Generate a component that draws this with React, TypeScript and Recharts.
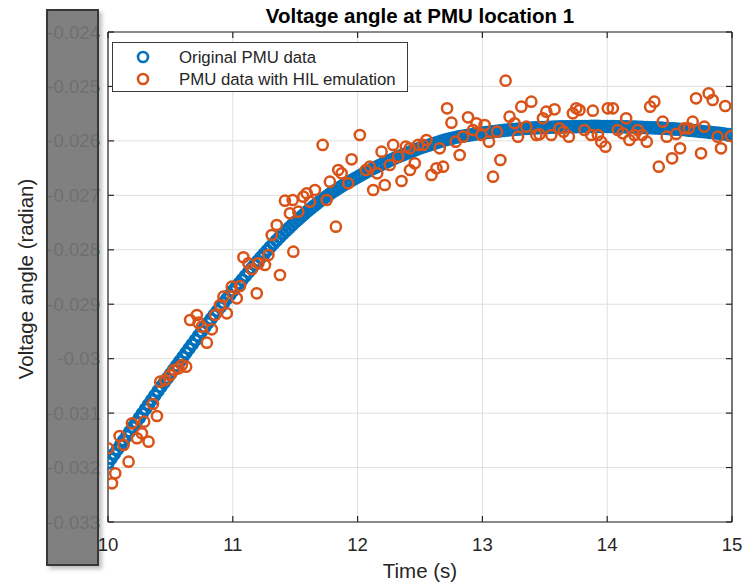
import { ScatterChart, Scatter, XAxis, YAxis, CartesianGrid, Legend } from "recharts";

// axis ticks
const X_TICKS = [10, 11, 12, 13, 14, 15];
const Y_TICKS = [-0.033, -0.032, -0.031, -0.03, -0.029, -0.028, -0.027, -0.026, -0.025, -0.024];

// original PMU data, sampled every 25 ms from t = 10 s
const ORIGINAL_T0 = 10;
const ORIGINAL_DT = 0.025;
const ORIGINAL_ANGLE = [
  -0.031916, -0.031834, -0.031751, -0.031668, -0.031586, -0.031503, -0.03142, -0.031338, -0.031255, -0.031173,
  -0.03109, -0.031007, -0.030925, -0.030842, -0.030759, -0.030677, -0.030594, -0.030516, -0.030438, -0.03036,
  -0.030282, -0.030204, -0.030126, -0.030047, -0.029969, -0.029891, -0.029813, -0.029735, -0.029657, -0.029579,
  -0.029501, -0.029423, -0.029345, -0.029271, -0.029198, -0.029124, -0.029051, -0.028978, -0.028904, -0.028831,
  -0.028757, -0.028688, -0.028619, -0.028551, -0.028482, -0.028413, -0.028344, -0.028275, -0.028206, -0.028142,
  -0.028078, -0.028013, -0.027949, -0.027889, -0.02783, -0.02777, -0.02771, -0.027655, -0.0276, -0.027545,
  -0.02749, -0.027439, -0.027389, -0.027338, -0.027288, -0.027242, -0.027196, -0.02715, -0.027104, -0.027063,
  -0.027021, -0.02698, -0.026939, -0.026902, -0.026865, -0.026829, -0.026792, -0.02676, -0.026728, -0.026695,
  -0.026663, -0.026631, -0.026599, -0.026567, -0.026535, -0.026507, -0.02648, -0.026452, -0.026424, -0.026397,
  -0.026369, -0.026342, -0.026314, -0.026291, -0.026268, -0.026245, -0.026222, -0.0262, -0.026177, -0.026154,
  -0.026131, -0.026112, -0.026094, -0.026076, -0.026057, -0.026039, -0.02602, -0.026002, -0.025984, -0.02597,
  -0.025956, -0.025942, -0.025929, -0.025919, -0.02591, -0.025901, -0.025892, -0.025883, -0.025873, -0.025864,
  -0.025855, -0.025848, -0.025841, -0.025835, -0.025828, -0.02582, -0.025814, -0.025807, -0.0258, -0.025795,
  -0.025791, -0.025786, -0.025782, -0.025777, -0.025772, -0.025768, -0.025763, -0.025761, -0.025759, -0.025756,
  -0.025754, -0.025752, -0.02575, -0.025747, -0.025745, -0.025743, -0.025742, -0.025741, -0.02574, -0.025739,
  -0.025738, -0.025737, -0.025736, -0.025735, -0.025735, -0.025734, -0.025734, -0.025734, -0.025735, -0.025735,
  -0.025736, -0.025737, -0.025738, -0.025739, -0.02574, -0.025741, -0.025742, -0.025744, -0.025745, -0.025747,
  -0.02575, -0.025752, -0.025754, -0.025757, -0.025759, -0.025761, -0.025763, -0.025766, -0.025769, -0.025773,
  -0.025776, -0.02578, -0.025784, -0.025787, -0.025791, -0.025796, -0.025802, -0.025807, -0.025813, -0.025819,
  -0.025825, -0.025831, -0.025837, -0.025843, -0.02585, -0.025856, -0.025862, -0.02587, -0.025877, -0.025885,
  -0.025892,
];

// PMU data with HIL emulation
const HIL_TIME = [
  10.0, 10.032, 10.058, 10.093, 10.125, 10.165, 10.192, 10.232, 10.272, 10.29,
  10.325, 10.36, 10.392, 10.418, 10.458, 10.498, 10.53, 10.565, 10.592, 10.626,
  10.658, 10.712, 10.725, 10.752, 10.792, 10.832, 10.858, 10.898, 10.925, 10.952,
  10.992, 11.032, 11.058, 11.085, 11.125, 11.152, 11.192, 11.205, 11.258, 11.285,
  11.312, 11.352, 11.378, 11.418, 11.458, 11.48, 11.485, 11.525, 11.565, 11.592,
  11.618, 11.658, 11.72, 11.752, 11.778, 11.826, 11.845, 11.872, 11.925, 11.952,
  12.018, 12.066, 12.098, 12.125, 12.157, 12.192, 12.218, 12.258, 12.285, 12.325,
  12.352, 12.386, 12.418, 12.42, 12.458, 12.485, 12.525, 12.552, 12.592, 12.632,
  12.658, 12.685, 12.717, 12.752, 12.786, 12.818, 12.845, 12.885, 12.925, 12.952,
  12.992, 13.018, 13.053, 13.085, 13.117, 13.144, 13.186, 13.218, 13.258, 13.285,
  13.312, 13.352, 13.392, 13.432, 13.458, 13.485, 13.512, 13.552, 13.578, 13.618,
  13.65, 13.693, 13.725, 13.752, 13.778, 13.818, 13.872, 13.885, 13.925, 13.952,
  13.986, 14.005, 14.045, 14.085, 14.125, 14.152, 14.178, 14.218, 14.245, 14.28,
  14.317, 14.344, 14.378, 14.413, 14.445, 14.477, 14.52, 14.552, 14.584, 14.618,
  14.653, 14.685, 14.712, 14.752, 14.778, 14.813, 14.845, 14.885, 14.912, 14.946,
  14.992,
];
const HIL_ANGLE = [
  -0.031646, -0.032289, -0.032106, -0.03142, -0.031586, -0.031892, -0.031187, -0.031462, -0.031371, -0.031158,
  -0.031525, -0.030833, -0.031053, -0.030423, -0.030392, -0.0303, -0.030208, -0.030177, -0.030116, -0.030147,
  -0.02929, -0.029198, -0.029339, -0.029413, -0.029707, -0.029461, -0.029198, -0.029014, -0.028862, -0.029167,
  -0.028678, -0.028891, -0.028665, -0.028138, -0.028248, -0.028358, -0.028799, -0.028248, -0.02828, -0.028096,
  -0.027729, -0.027545, -0.028463, -0.027098, -0.02733, -0.027086, -0.028035, -0.027301, -0.027025, -0.026963,
  -0.027117, -0.026902, -0.026075, -0.027086, -0.02675, -0.027576, -0.026535, -0.026595, -0.026779, -0.026338,
  -0.025892, -0.026535, -0.026474, -0.026902, -0.026595, -0.026199, -0.02681, -0.026443, -0.026075, -0.02629,
  -0.026737, -0.026107, -0.026136, -0.026535, -0.026412, -0.026075, -0.026075, -0.025984, -0.026626, -0.026503,
  -0.026136, -0.026474, -0.025401, -0.025666, -0.026015, -0.026259, -0.025923, -0.025567, -0.0258, -0.025677,
  -0.025892, -0.025708, -0.026015, -0.026658, -0.025831, -0.026351, -0.024894, -0.025556, -0.025677, -0.025923,
  -0.025372, -0.025739, -0.02528, -0.025892, -0.02588, -0.025585, -0.025464, -0.025892, -0.02542, -0.025769,
  -0.025831, -0.025923, -0.025493, -0.025401, -0.025433, -0.0258, -0.025892, -0.025445, -0.025892, -0.026015,
  -0.026107, -0.025401, -0.025401, -0.0258, -0.025861, -0.025585, -0.025984, -0.025892, -0.0258, -0.025892,
  -0.026015, -0.025372, -0.02528, -0.026474, -0.025648, -0.025923, -0.02632, -0.025873, -0.026136, -0.025769,
  -0.025769, -0.025648, -0.025218, -0.026228, -0.025739, -0.025126, -0.025249, -0.025923, -0.026136, -0.025359,
  -0.02591,
];

const BLUE = "#0072BD";
const ORANGE = "#D95319";
const INK = "#262626";
const FONT = "'Liberation Sans', Arial, Helvetica, sans-serif";

const W = 748;
const H = 584;
const MARGIN = { top: 32, right: 16, bottom: 62, left: 108 };

const originalData = ORIGINAL_ANGLE.map((v, i) => ({ t: ORIGINAL_T0 + i * ORIGINAL_DT, v }));
const hilData = HIL_TIME.map((t, i) => ({ t, v: HIL_ANGLE[i] }));

const fmtY = (v: number) => String(Number(v.toFixed(3)));

const ring = (color: string, r: number, sw: number) => (p: any) => (
  <circle cx={p.cx} cy={p.cy} r={r} fill="none" stroke={color} strokeWidth={sw} />
);

const yTick = (p: any) => (
  <text x={MARGIN.left - 8} y={p.y} dy={6.6} textAnchor="end" fontSize={18.6} fill={INK} fontFamily={FONT}>
    {fmtY(p.payload.value)}
  </text>
);

const xTick = (p: any) => (
  <text x={p.x} y={H - MARGIN.bottom + 29} textAnchor="middle" fontSize={18.6} fill={INK} fontFamily={FONT}>
    {p.payload.value}
  </text>
);

const noTick = () => <g />;

function LegendBox({ payload }: any) {
  const colors: Record<string, string> = {
    "Original PMU data": BLUE,
    "PMU data with HIL emulation": ORANGE,
  };
  return (
    <svg width={296} height={50} style={{ display: "block" }}>
      <rect x={0.5} y={0.5} width={295} height={49} fill="#fff" stroke="#3a3a3a" strokeWidth={1} />
      {(payload || []).map((item: any, i: number) => (
        <g key={item.value}>
          <circle cx={31} cy={15 + i * 22} r={5} fill="none" stroke={colors[item.value] || item.color} strokeWidth={2.6} />
          <text x={67} y={21 + i * 22} fontSize={16.8} fill={INK} fontFamily={FONT}>
            {item.value}
          </text>
        </g>
      ))}
    </svg>
  );
}

export default function App() {
  return (
    <div style={{ position: "absolute", left: 0, top: 0, width: W, height: H, background: "#fff" }}>
      <ScatterChart width={W} height={H} margin={MARGIN}>
        <CartesianGrid stroke="#dfdfdf" strokeWidth={1} />
        <XAxis
          type="number"
          dataKey="t"
          domain={[10, 15]}
          ticks={X_TICKS}
          allowDataOverflow
          mirror
          tickSize={6}
          stroke={INK}
          strokeWidth={1.2}
          tick={xTick}
        />
        <XAxis
          xAxisId="top"
          orientation="top"
          type="number"
          dataKey="t"
          domain={[10, 15]}
          ticks={X_TICKS}
          allowDataOverflow
          mirror
          tickSize={6}
          stroke={INK}
          strokeWidth={1.2}
          tick={noTick}
        />
        <YAxis
          type="number"
          dataKey="v"
          domain={[-0.033, -0.024]}
          ticks={Y_TICKS}
          allowDataOverflow
          mirror
          tickSize={6}
          stroke={INK}
          strokeWidth={1.2}
          tick={yTick}
        />
        <YAxis
          yAxisId="right"
          orientation="right"
          type="number"
          dataKey="v"
          domain={[-0.033, -0.024]}
          ticks={Y_TICKS}
          allowDataOverflow
          mirror
          tickSize={6}
          stroke={INK}
          strokeWidth={1.2}
          tick={noTick}
        />
        <Legend
          layout="horizontal"
          verticalAlign="middle"
          align="center"
          wrapperStyle={{ left: 112, top: 42, width: 296, height: 50 }}
          content={<LegendBox />}
        />
        <Scatter
          name="Original PMU data"
          data={originalData}
          fill={BLUE}
          shape={ring(BLUE, 5.2, 3.2)}
          isAnimationActive={false}
        />
        <Scatter
          name="PMU data with HIL emulation"
          data={hilData}
          fill={ORANGE}
          shape={ring(ORANGE, 5.1, 2.5)}
          isAnimationActive={false}
        />
      </ScatterChart>

      <svg
        width={W}
        height={H}
        style={{ position: "absolute", left: 0, top: 0, pointerEvents: "none" }}
      >
        <text x={420} y={23} textAnchor="middle" fontSize={20.5} fontWeight="bold" fill="#000" fontFamily={FONT}>
          Voltage angle at PMU location 1
        </text>
        <text x={420} y={578} textAnchor="middle" fontSize={20.5} fill={INK} fontFamily={FONT}>
          Time (s)
        </text>
        <text
          x={33}
          y={279}
          textAnchor="middle"
          fontSize={20.5}
          fill={INK}
          fontFamily={FONT}
          transform="rotate(-90 33 279)"
        >
          Voltage angle (radian)
        </text>
      </svg>

      <div
        style={{
          position: "absolute",
          left: 46,
          top: 9,
          width: 53,
          height: 557,
          boxSizing: "border-box",
          background: "rgba(117,117,117,0.92)",
          border: "2px solid #383838",
          boxShadow: "3px 3px 4px rgba(0,0,0,0.25)",
        }}
      />
    </div>
  );
}
